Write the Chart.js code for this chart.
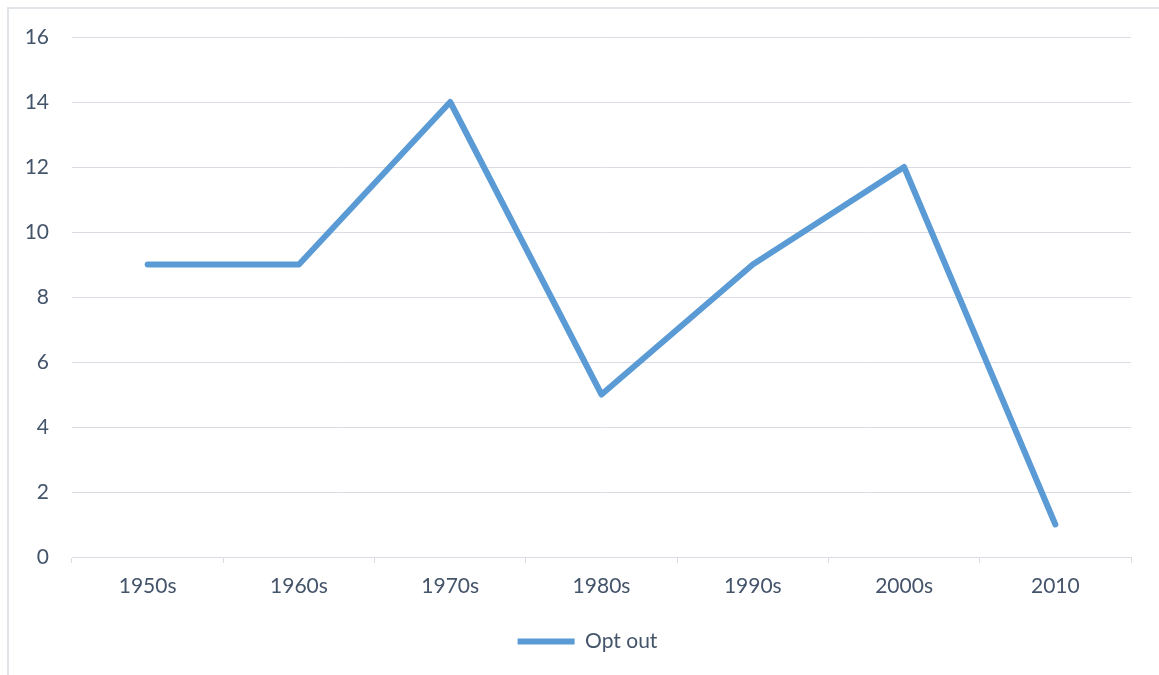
<!DOCTYPE html>
<html>
<head>
<meta charset="utf-8">
<script src="https://cdn.jsdelivr.net/npm/chart.js@4/dist/chart.umd.min.js"></script>
<style>
  html, body { margin: 0; padding: 0; background: #fff; overflow: hidden; }
  #frame { position: absolute; left: 7px; top: 7px; width: 1200px; height: 700px;
           border-left: 2px solid #E1E5EA; border-top: 2px solid #E1E5EA; }
  #wrap { position: absolute; left: 0; top: 0; width: 1159px; height: 675px; }
</style>
</head>
<body>
<div id="frame"></div>
<div id="wrap"><canvas id="c" width="1159" height="675"></canvas></div>
<script>
const categories = ["1950s", "1960s", "1970s", "1980s", "1990s", "2000s", "2010"];
const optOut = [9, 9, 14, 5, 9, 12, 1];
const seriesName = "Opt out";
const yMin = 0, yMax = 16, yStep = 2;

const textColor = "#44546A";
const gridColor = "#D9DDE3";
const fontFamily = "Lato, 'Open Sans', sans-serif";

const shiftLegend = {
  id: "shiftLegend",
  afterLayout(chart) {
    const lg = chart.legend;
    if (lg) {
      lg.left = 44;
      lg.width = lg.right - lg.left;
    }
  }
};

new Chart(document.getElementById("c"), {
  type: "line",
  data: {
    labels: categories,
    datasets: [{
      label: seriesName,
      data: optOut,
      borderColor: "#5B9BD5",
      backgroundColor: "#5B9BD5",
      borderWidth: 6,
      borderCapStyle: "round",
      borderJoinStyle: "round",
      pointRadius: 0,
      pointHoverRadius: 0,
      tension: 0,
      fill: false
    }]
  },
  plugins: [shiftLegend],
  options: {
    responsive: false,
    animation: false,
    layout: { padding: { top: 37, right: 28, bottom: 13, left: 0 } },
    plugins: {
      tooltip: { enabled: false },
      legend: {
        position: "bottom",
        labels: {
          usePointStyle: true,
          pointStyle: "line",
          pointStyleWidth: 57,
          color: textColor,
          font: { family: fontFamily, size: 21 },
          padding: 10
        }
      }
    },
    scales: {
      x: {
        offset: true,
        grid: {
          offset: true,
          display: true,
          drawOnChartArea: false,
          drawTicks: true,
          tickLength: 6,
          color: gridColor,
          lineWidth: 1
        },
        border: { display: true, color: gridColor, width: 1 },
        ticks: {
          color: textColor,
          font: { family: fontFamily, size: 21 },
          padding: 11,
          maxRotation: 0
        },
        afterFit: function(s) { s.height = 64; }
      },
      y: {
        min: yMin,
        max: yMax,
        grid: { color: gridColor, lineWidth: 1, drawTicks: false },
        border: { display: false },
        ticks: {
          stepSize: yStep,
          color: textColor,
          font: { family: fontFamily, size: 21 },
          padding: 23
        },
        afterFit: function(s) { s.width = 72; }
      }
    }
  }
});
</script>
</body>
</html>
